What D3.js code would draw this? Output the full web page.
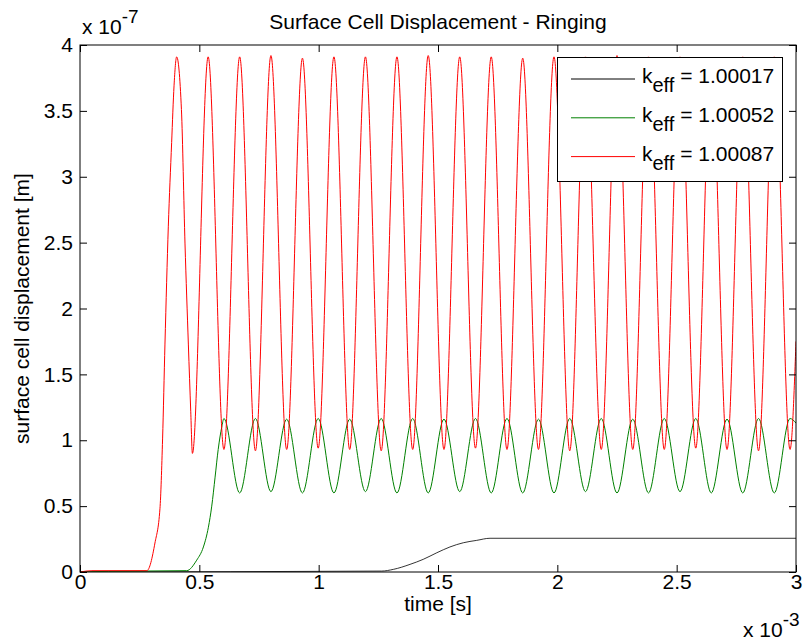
<!DOCTYPE html>
<html>
<head>
<meta charset="utf-8">
<script src="https://cdn.jsdelivr.net/npm/d3@7"></script>
<style>
  body { margin: 0; background: #fff; }
  text { font-family: "Liberation Sans", Arial, Helvetica, sans-serif; }
</style>
</head>
<body>
<svg id="chart" width="805" height="644"></svg>
<script>
// time in units of 1e-3 s, displacement in units of 1e-7 m
const xTicks = [0, 0.5, 1, 1.5, 2, 2.5, 3];
const xTickLabels = ['0', '0.5', '1', '1.5', '2', '2.5', '3'];
const yTicks = [0, 0.5, 1, 1.5, 2, 2.5, 3, 3.5, 4];
const yTickLabels = ['0', '0.5', '1', '1.5', '2', '2.5', '3', '3.5', '4'];

const seriesNames = ['1.00017', '1.00052', '1.00087'];
const seriesColors = ['#000000', '#008000', '#ff0000'];

// k_eff = 1.00017
const blackTime = [0, 1.264, 1.313, 1.383, 1.438, 1.495, 1.550, 1.606, 1.662, 1.718, 3.0];
const blackDisp = [0, 0.007, 0.02, 0.058, 0.096, 0.146, 0.19, 0.222, 0.24, 0.256, 0.256];

// k_eff = 1.00052
const greenTime = [
  0, 0.12, 0.447, 0.489, 0.517, 0.538, 0.552, 0.566, 0.579, 0.594, 0.603,
  0.669, 0.735, 0.800, 0.866, 0.932, 0.998, 1.064, 1.130, 1.196, 1.262,
  1.328, 1.394, 1.459, 1.525, 1.591, 1.657, 1.723, 1.789, 1.855, 1.921,
  1.986, 2.052, 2.118, 2.184, 2.250, 2.316, 2.382, 2.448, 2.514, 2.580,
  2.645, 2.711, 2.777, 2.843, 2.909, 2.975, 3.0
];
const greenDisp = [
  0, 0.005, 0.01, 0.09, 0.19, 0.34, 0.50, 0.72, 0.93, 1.10, 1.165,
  0.60, 1.165, 0.61, 1.16, 0.60, 1.165, 0.60, 1.16, 0.61, 1.165,
  0.60, 1.165, 0.60, 1.16, 0.61, 1.165, 0.60, 1.165, 0.60, 1.16,
  0.60, 1.165, 0.61, 1.165, 0.60, 1.16, 0.60, 1.165, 0.61, 1.165,
  0.60, 1.16, 0.60, 1.165, 0.60, 1.165, 1.13
];

// k_eff = 1.00087
const redTime = [
  0, 0.05, 0.28, 0.314, 0.335, 0.346, 0.356, 0.370, 0.384, 0.394, 0.405,
  0.425, 0.440, 0.454, 0.464, 0.471,
  0.537, 0.603, 0.669, 0.735, 0.800, 0.866, 0.932, 0.998, 1.064, 1.130,
  1.196, 1.262, 1.328, 1.394, 1.459, 1.525, 1.591, 1.657, 1.723, 1.789,
  1.855, 1.921, 1.986, 2.052, 2.118, 2.184, 2.250, 2.316, 2.382, 2.448,
  2.514, 2.580, 2.645, 2.711, 2.777, 2.843, 2.909, 2.975, 3.0
];
const redDisp = [
  0, 0.01, 0.01, 0.22, 0.48, 1.01, 1.73, 2.62, 3.26, 3.69, 3.91,
  3.51, 2.49, 1.73, 1.22, 0.90,
  3.91, 0.93, 3.91, 0.92, 3.92, 0.93, 3.90, 0.94, 3.91, 0.93,
  3.91, 0.92, 3.91, 0.93, 3.92, 0.93, 3.91, 0.94, 3.91, 0.93,
  3.90, 0.93, 3.91, 0.92, 3.91, 0.93, 3.92, 0.93, 3.91, 0.93,
  3.91, 0.94, 3.90, 0.93, 3.91, 0.92, 3.91, 0.93, 1.75
];

const fontSize = 21;
var svg = d3.select('#chart');

// plot box (don't use "top", it's window.top)
var pLeft = 80, pRight = 796, pTop = 45, pBottom = 572;

var x = d3.scaleLinear().domain([0, 3]).range([pLeft, pRight]);
var y = d3.scaleLinear().domain([0, 4]).range([pBottom, pTop]);

svg.append('defs').append('clipPath').attr('id', 'plotclip')
  .append('rect')
  .attr('x', pLeft).attr('y', pTop)
  .attr('width', pRight - pLeft).attr('height', pBottom - pTop);

// data lines
var line = d3.line()
  .x(d => x(d[0]))
  .y(d => y(d[1]))
  .curve(d3.curveMonotoneX);

var series = [
  d3.zip(blackTime, blackDisp),
  d3.zip(greenTime, greenDisp),
  d3.zip(redTime, redDisp)
];

svg.append('g')
  .attr('clip-path', 'url(#plotclip)')
  .selectAll('path')
  .data(series)
  .enter()
  .append('path')
  .attr('d', line)
  .attr('fill', 'none')
  .attr('stroke', (d, i) => seriesColors[i])
  .attr('stroke-width', (d, i) => i === 0 ? 0.8 : 1);

// axes, ticks point inward
function styleAxis(g) {
  g.attr('font-size', fontSize).attr('font-family', '"Liberation Sans", Arial, sans-serif');
  g.select('.domain').remove();
  g.selectAll('.tick line').attr('stroke', '#000');
  g.selectAll('.tick text').attr('fill', '#000');
}

svg.append('g')
  .attr('transform', 'translate(0,' + pBottom + ')')
  .call(d3.axisBottom(x).tickValues(xTicks).tickFormat((d, i) => xTickLabels[i])
    .tickSizeInner(-7).tickSizeOuter(0).tickPadding(2))
  .call(styleAxis);

svg.append('g')
  .attr('transform', 'translate(' + pLeft + ',0)')
  .call(d3.axisLeft(y).tickValues(yTicks).tickFormat((d, i) => yTickLabels[i])
    .tickSizeInner(-7).tickSizeOuter(0).tickPadding(7))
  .call(styleAxis);

svg.append('g')
  .attr('transform', 'translate(0,' + pTop + ')')
  .call(d3.axisTop(x).tickValues(xTicks).tickFormat('').tickSizeInner(-7).tickSizeOuter(0))
  .call(styleAxis);

svg.append('g')
  .attr('transform', 'translate(' + pRight + ',0)')
  .call(d3.axisRight(y).tickValues(yTicks).tickFormat('').tickSizeInner(-7).tickSizeOuter(0))
  .call(styleAxis);

svg.append('rect')
  .attr('x', pLeft).attr('y', pTop)
  .attr('width', pRight - pLeft).attr('height', pBottom - pTop)
  .attr('fill', 'none').attr('stroke', '#000').attr('stroke-width', 1);

// title and labels
svg.append('text')
  .attr('x', (pLeft + pRight) / 2).attr('y', 29)
  .attr('text-anchor', 'middle').attr('font-size', fontSize)
  .text('Surface Cell Displacement - Ringing');

svg.append('text')
  .attr('x', (pLeft + pRight) / 2).attr('y', 611)
  .attr('text-anchor', 'middle').attr('font-size', fontSize)
  .text('time [s]');

svg.append('text')
  .attr('transform', 'translate(29,' + (pTop + pBottom) / 2 + ') rotate(-90)')
  .attr('text-anchor', 'middle').attr('font-size', fontSize)
  .text('surface cell displacement [m]');

// exponent multipliers
var yExp = svg.append('text').attr('x', 82).attr('y', 34).attr('font-size', fontSize);
yExp.append('tspan').text('x 10');
yExp.append('tspan').attr('dy', -11).attr('font-size', 19).text('-7');

var xExp = svg.append('text').attr('x', 743).attr('y', 637).attr('font-size', fontSize);
xExp.append('tspan').text('x 10');
xExp.append('tspan').attr('dy', -11).attr('font-size', 19).text('-3');

// legend
var legend = svg.append('g');
legend.append('rect')
  .attr('x', 557.5).attr('y', 57.5).attr('width', 225).attr('height', 124)
  .attr('fill', '#fff').attr('stroke', '#000').attr('stroke-width', 1);

var rows = legend.selectAll('g.row')
  .data(seriesNames)
  .enter()
  .append('g')
  .attr('class', 'row')
  .attr('transform', (d, i) => 'translate(0,' + (79 + i * 38.8) + ')');

rows.append('line')
  .attr('x1', 571).attr('x2', 635).attr('y1', 0).attr('y2', 0)
  .attr('stroke', (d, i) => seriesColors[i]).attr('stroke-width', 1);

var lt = rows.append('text')
  .attr('x', 642).attr('y', 4).attr('font-size', fontSize);
lt.append('tspan').text('k');
lt.append('tspan').attr('dy', 9).attr('font-size', 20).text('eff');
lt.append('tspan').attr('dy', -9).text(d => ' = ' + d);
</script>
</body>
</html>
